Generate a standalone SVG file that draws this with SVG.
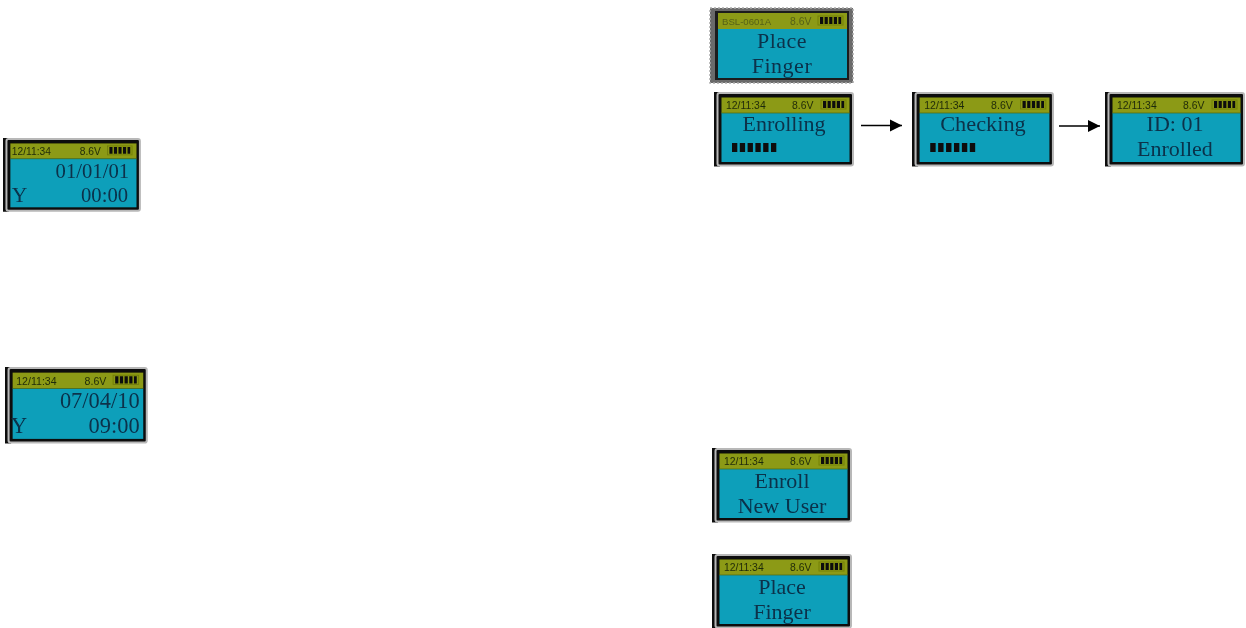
<svg xmlns="http://www.w3.org/2000/svg" width="1246" height="628" viewBox="0 0 1246 628">
<style>
.big{font-family:"Liberation Serif","Times New Roman",serif;font-size:22px;fill:#07304a}
.big2{font-size:21px}
.st{font-family:"Liberation Sans",Arial,sans-serif;font-size:10.4px;fill:#1f2a0a}
.m{text-anchor:middle}.e{text-anchor:end}
.conn{stroke:#000;stroke-width:1.5;fill:none;marker-end:url(#ah)}
.soft{filter:url(#soft)}
</style>
<defs>
<filter id="soft" x="-5%" y="-5%" width="110%" height="110%"><feGaussianBlur stdDeviation="0.4"/></filter>
<marker id="ah" markerUnits="userSpaceOnUse" markerWidth="13" markerHeight="13" refX="12" refY="6.5" orient="auto"><path d="M0,0.5 L12,6.5 L0,12.5 Z" fill="#000"/></marker>
<g id="lcd">
<rect x="0" y="0" width="6" height="74.5" fill="#111"/>
<rect x="3.5" y="1" width="135.5" height="72.5" fill="#111" stroke="#b8b8b8" stroke-width="2" rx="2"/>
<rect x="7.5" y="5.5" width="128" height="15.5" fill="#8c9a12"/>
<rect x="7.5" y="21" width="128" height="49" fill="#0a9fba"/>
<rect x="7.5" y="20.6" width="128" height="0.8" fill="#4f6f20"/>
</g>
<g id="bat">
<rect x="0" y="0" width="25" height="9" fill="none" stroke="#6f7a10" stroke-width="0.8"/>
<path d="M2,1h3.2v7h-3.2zM6.6,1h3.2v7h-3.2zM11.2,1h3.2v7h-3.2zM15.8,1h3.2v7h-3.2zM20.4,1h2.8v7h-2.8z" fill="#111"/>
</g>
<path id="bar" d="M0,0h5.3v9h-5.3zM7.8,0h5.3v9h-5.3zM15.6,0h5.3v9h-5.3zM23.4,0h5.3v9h-5.3zM31.2,0h5.3v9h-5.3zM39,0h5.3v9h-5.3z" fill="#0a0a0a"/>
</defs>
<rect width="1246" height="628" fill="#fff"/>
<g id="connectors">
<line class="conn" x1="861" y1="125.5" x2="902" y2="125.5"/>
<line class="conn" x1="1059" y1="126" x2="1100" y2="126"/>
</g>
<g id="node-date-default" class="soft" transform="translate(3,138) scale(0.985,0.99)">
<use href="#lcd"/>
<text class="st" x="9" y="17.5">12/11:34</text><text class="st" x="78" y="17.5">8.6V</text>
<use href="#bat" x="106" y="8"/>
<text class="big big2 e" x="128" y="40">01/01/01</text>
<text class="big" x="9" y="64.5">Y</text>
<text class="big big2 e" x="127" y="64.5">00:00</text>
</g>
<g id="node-date-set" class="soft" transform="translate(5,367) scale(1.02,1.027)">
<use href="#lcd"/>
<text class="st" x="11" y="17.5">12/11:34</text><text class="st" x="78" y="17.5">8.6V</text>
<use href="#bat" x="106" y="8"/>
<text class="big e" x="132" y="40">07/04/10</text>
<text class="big" x="6" y="64.5">Y</text>
<text class="big e" x="132" y="64.5">09:00</text>
</g>
<g id="node-place-top" class="soft" transform="translate(711,8)">
<rect x="-1" y="0" width="143" height="75" fill="#6a6a6a" stroke="#aaa" stroke-width="1.5" stroke-dasharray="2 2"/>
<rect x="4" y="3" width="134" height="69" fill="#1c1c1c"/>
<rect x="7" y="5" width="129" height="16" fill="#8c9a12"/>
<rect x="7" y="21" width="129" height="49" fill="#0a9fba"/>
<text class="st" x="11" y="17" style="font-size:9.6px;fill:#55601a">BSL-0601A</text><text class="st" x="79" y="17" style="fill:#55601a">8.6V</text>
<use href="#bat" x="107" y="8"/>
<text class="big m" x="71" y="40" style="letter-spacing:.5px">Place</text>
<text class="big m" x="71" y="64.5" style="letter-spacing:.5px">Finger</text>
</g>
<g id="node-enrolling" class="soft" transform="translate(714,92)">
<use href="#lcd"/>
<text class="st" x="12" y="17">12/11:34</text><text class="st" x="78" y="17">8.6V</text>
<use href="#bat" x="107" y="8"/>
<text class="big m" x="70" y="39">Enrolling</text>
<use href="#bar" x="18" y="51"/>
</g>
<g id="node-checking" class="soft" transform="translate(912,92) scale(1.014,1)">
<use href="#lcd"/>
<text class="st" x="12" y="17">12/11:34</text><text class="st" x="78" y="17">8.6V</text>
<use href="#bat" x="107" y="8"/>
<text class="big m" x="70" y="39">Checking</text>
<use href="#bar" x="18" y="51"/>
</g>
<g id="node-enrolled" class="soft" transform="translate(1105,92)">
<use href="#lcd"/>
<text class="st" x="12" y="17">12/11:34</text><text class="st" x="78" y="17">8.6V</text>
<use href="#bat" x="107" y="8"/>
<text class="big m" x="70" y="39">ID: 01</text>
<text class="big m" x="70" y="64">Enrolled</text>
</g>
<g id="node-enroll-new" class="soft" transform="translate(712,448)">
<use href="#lcd"/>
<text class="st" x="12" y="17">12/11:34</text><text class="st" x="78" y="17">8.6V</text>
<use href="#bat" x="107" y="8"/>
<text class="big m" x="70" y="40">Enroll</text>
<text class="big m" x="70" y="65">New User</text>
</g>
<g id="node-place" class="soft" transform="translate(712,554)">
<use href="#lcd"/>
<text class="st" x="12" y="17">12/11:34</text><text class="st" x="78" y="17">8.6V</text>
<use href="#bat" x="107" y="8"/>
<text class="big m" x="70" y="40">Place</text>
<text class="big m" x="70" y="65">Finger</text>
</g>
</svg>
